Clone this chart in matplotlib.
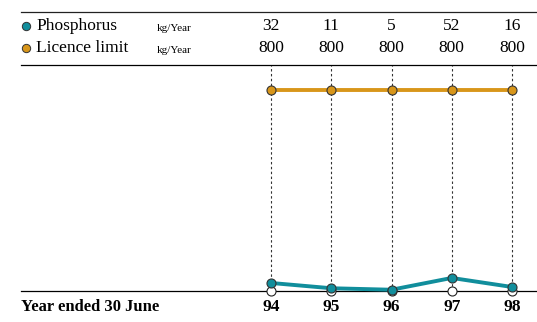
import matplotlib.pyplot as plt

# Annual phosphorus load vs licence limit
years = [94, 95, 96, 97, 98]
year_labels = ['94', '95', '96', '97', '98']
phosphorus = [32, 11, 5, 52, 16]
licence_limit = [800, 800, 800, 800, 800]

teal = '#118e9c'
gold = '#d8961a'

plt.rcParams['font.family'] = ['Liberation Serif', 'DejaVu Serif']

fig = plt.figure(figsize=(5.37, 3.22), dpi=100)
ax = fig.add_axes([21 / 537, 31 / 322, 516 / 537, 226 / 322])
ax.set_xlim(89.85, 98.415)
ax.set_ylim(0, 900)

# dashed guides from the header down to the baseline
ax.vlines(years, 0, 900, colors='#333333', linestyles=(0, (2.2, 2.2)), linewidth=0.8, zorder=1)

# zero markers on the baseline
ax.plot(years, [0] * len(years), 'o', ms=6.5, mfc='white', mec='#222222', mew=0.8,
        zorder=4, clip_on=False)

ax.plot(years, licence_limit, '-', color=gold, lw=2.8, zorder=3)
ax.plot(years, licence_limit, 'o', ms=6.5, mfc=gold, mec='#333333', mew=0.8, zorder=5)
ax.plot(years, phosphorus, '-', color=teal, lw=2.8, zorder=3, clip_on=False)
ax.plot(years, phosphorus, 'o', ms=6.5, mfc=teal, mec='#333333', mew=0.8, zorder=5,
        clip_on=False)

for side in ['left', 'right']:
    ax.spines[side].set_visible(False)
ax.spines['top'].set_linewidth(0.9)
ax.spines['bottom'].set_linewidth(0.9)
ax.spines['bottom'].set_zorder(2)
ax.set_yticks([])
ax.set_xticks(years)
ax.set_xticklabels(year_labels, fontsize=12.5, fontweight='bold')
ax.tick_params(axis='x', length=0, pad=6)

# header table above the plot
tr = ax.get_xaxis_transform()
ax.plot([0, 1], [1.2345, 1.2345], transform=ax.transAxes, color='#222222', lw=0.9,
        clip_on=False)
rows = [('Phosphorus', teal, phosphorus, 1.1726), ('Licence limit', gold, licence_limit, 1.075)]
for name, color, vals, y in rows:
    ax.plot([5 / 516], [y], 'o', transform=ax.transAxes, ms=6, mfc=color, mec='#333333',
            mew=0.7, clip_on=False)
    ax.text(15 / 516, y, name, transform=ax.transAxes, fontsize=12.5, va='center', ha='left')
    ax.text(136 / 516, y - 0.01, 'kg/Year', transform=ax.transAxes, fontsize=8, va='center',
            ha='left')
    for x, v in zip(years, vals):
        ax.text(x, y, str(v), transform=tr, fontsize=12.5, va='center', ha='center')

ax.text(0, -0.07, 'Year ended 30 June', transform=ax.transAxes, fontsize=12,
        fontweight='bold', va='center', ha='left')

fig.savefig('out.png', dpi=100)
